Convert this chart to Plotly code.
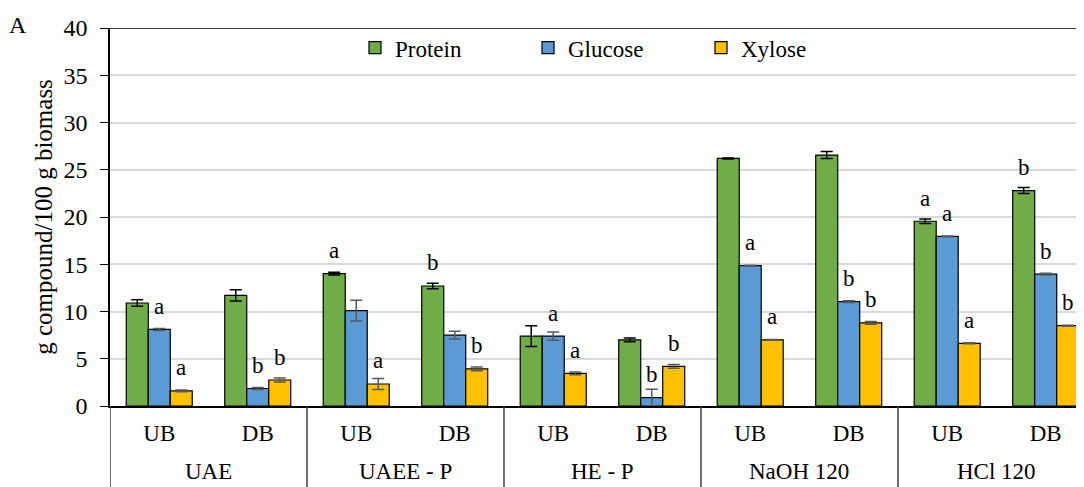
import plotly.graph_objects as go

groups = ["UAE", "UAE", "UAEE - P", "UAEE - P", "HE - P", "HE - P",
          "NaOH 120", "NaOH 120", "HCl 120", "HCl 120"]
subs = ["UB", "DB"] * 5
group_names = ["UAE", "UAEE - P", "HE - P", "NaOH 120", "HCl 120"]

protein = [10.9, 11.7, 14.0, 12.7, 7.4, 7.0, 26.2, 26.55, 19.55, 22.8]
protein_err = [0.34, 0.6, 0.15, 0.3, 1.1, 0.2, 0.05, 0.37, 0.25, 0.32]
glucose = [8.1, 1.85, 10.1, 7.5, 7.4, 0.88, 14.85, 11.05, 17.95, 13.95]
glucose_err = [0.1, 0.1, 1.1, 0.42, 0.44, 0.88, 0.05, 0.1, 0.05, 0.1]
xylose = [1.6, 2.75, 2.33, 3.92, 3.46, 4.2, 7.0, 8.8, 6.63, 8.5]
xylose_err = [0.1, 0.2, 0.58, 0.2, 0.15, 0.2, 0.05, 0.15, 0.05, 0.05]

protein_letters = ["", "", "a", "b", "", "", "", "", "a", "b"]
glucose_letters = ["a", "b", "", "", "a", "b", "a", "b", "a", "b"]
xylose_letters = ["a", "b", "a", "b", "a", "b", "a", "b", "a", "b"]

series_names = ["Protein", "Glucose", "Xylose"]
colors = ["#70AD47", "#5B9BD5", "#FFC000"]
err_colors = ["#000000", "#595959", "#595959"]

FONT = "Liberation Serif"
BARGAP = 0.33

xpos = list(range(len(subs)))

fig = go.Figure()
for name, vals, errs, col, ecol in zip(series_names, [protein, glucose, xylose],
                                       [protein_err, glucose_err, xylose_err],
                                       colors, err_colors):
    fig.add_trace(go.Bar(
        name=name, x=xpos, y=vals,
        marker=dict(color=col, line=dict(color="#000000", width=1.2)),
        error_y=dict(type="data", array=errs, visible=True, color=ecol,
                     thickness=1.5, width=6),
    ))

bw = (1 - BARGAP) / 3
for off, vals, letters in zip([-bw, 0, bw], [protein, glucose, xylose],
                              [protein_letters, glucose_letters, xylose_letters]):
    for i, (v, t) in enumerate(zip(vals, letters)):
        if t:
            fig.add_annotation(x=i + off, y=v, xref="x", yref="y", text=t,
                               showarrow=False, yshift=23, yanchor="middle",
                               font=dict(family=FONT, size=23, color="#000000"))

# group labels and dividers
for g in group_names:
    idx = [i for i, gg in enumerate(groups) if gg == g]
    fig.add_annotation(x=sum(idx) / len(idx), y=-0.172, xref="x", yref="paper",
                       text=g, showarrow=False, yanchor="middle",
                       font=dict(family=FONT, size=23, color="#000000"))
bounds = [-0.5] + [i + 0.5 for i in range(len(groups) - 1) if groups[i] != groups[i + 1]] + [len(groups) - 0.5]
for b in bounds:
    fig.add_shape(type="line", xref="x", yref="paper", x0=b, x1=b, y0=0, y1=-0.3,
                  line=dict(color="#404040", width=1.5))

fig.add_annotation(x=-0.0937, y=1.008, xref="paper", yref="paper", text="A",
                   showarrow=False, xanchor="center", yanchor="middle",
                   font=dict(family=FONT, size=24, color="#000000"))

fig.add_shape(type="line", xref="paper", yref="y", x0=0, x1=1, y0=40, y1=40,
              line=dict(color="#000000", width=1.5), layer="above")

fig.update_layout(
    width=1084, height=487,
    margin=dict(l=102, r=0, t=20, b=89, autoexpand=False),
    paper_bgcolor="white", plot_bgcolor="white",
    barmode="group", bargap=BARGAP, bargroupgap=0,
    font=dict(family=FONT, size=23, color="#000000"),
    showlegend=True,
    legend=dict(orientation="h", x=0.2495, y=1.005, xanchor="left", yanchor="top",
                font=dict(family=FONT, size=23, color="#000000"),
                entrywidth=128, entrywidthmode="pixels", bgcolor="rgba(0,0,0,0)"),
    xaxis=dict(range=[-0.5, 9.47], showline=True, linecolor="#000000",
               linewidth=1.5, ticks="", showgrid=False, zeroline=False,
               tickmode="array", tickvals=xpos, ticktext=subs,
               ticklabelstandoff=6, automargin=False,
               tickfont=dict(family=FONT, size=23, color="#000000")),
    yaxis=dict(range=[0, 40], dtick=5, showline=True, linecolor="#000000",
               linewidth=1.5, ticks="outside", ticklen=8, tickcolor="#000000",
               ticklabelstandoff=8, automargin=False,
               showgrid=True, gridcolor="#D9D9D9", gridwidth=1.5, zeroline=False,
               tickfont=dict(family=FONT, size=24, color="#000000"),
               title=dict(text="g compound/100 g biomass",
                          font=dict(family=FONT, size=25, color="#000000"),
                          standoff=4)),
)

fig.write_html("out.html")
